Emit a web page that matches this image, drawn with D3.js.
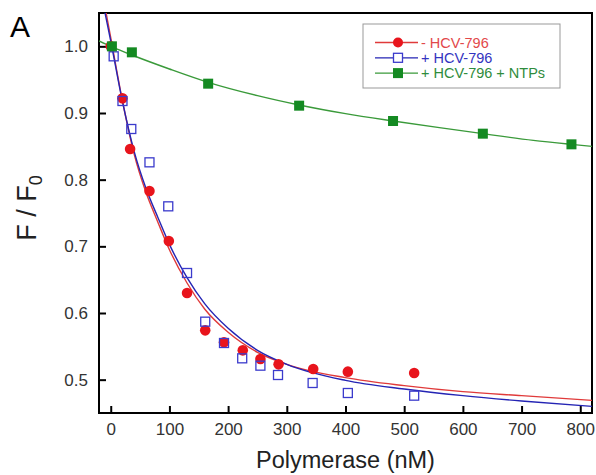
<!DOCTYPE html>
<html>
<head>
<meta charset="utf-8">
<script src="https://cdn.jsdelivr.net/npm/d3@7"></script>
<style>
  body { margin: 0; background: #fff; }
  svg { display: block; font-family: "Liberation Sans", Arial, sans-serif; }
</style>
</head>
<body>
<div id="chart"></div>
<script>
// measured points
const redX = [0, 20, 33, 66, 99, 130, 161, 193, 225, 255, 286, 345, 404, 517];
const redY = [1.0, 0.922, 0.846, 0.783, 0.708, 0.630, 0.574, 0.556, 0.544, 0.531, 0.523, 0.516, 0.512, 0.510];
const blueX = [5, 20, 35, 66, 98, 130, 161, 193, 224, 255, 285, 344, 404, 517];
const blueY = [0.985, 0.918, 0.876, 0.826, 0.760, 0.660, 0.587, 0.555, 0.532, 0.521, 0.507, 0.495, 0.480, 0.476];
const greenX = [2, 36, 166, 321, 481, 634, 785];
const greenY = [1.0, 0.991, 0.944, 0.911, 0.888, 0.869, 0.853];

// fitted curves
const redFitX = [-10, 0, 20, 40, 60, 80, 100, 130, 160, 200, 250, 300, 400, 500, 600, 700, 820];
const redFitY = [1.06, 1.013, 0.918, 0.838, 0.781, 0.737, 0.695, 0.645, 0.606, 0.571, 0.541, 0.523, 0.503, 0.491, 0.482, 0.476, 0.469];
const blueFitX = [-12, 0, 20, 40, 60, 80, 100, 130, 160, 200, 250, 300, 400, 500, 600, 700, 820];
const blueFitY = [1.06, 1.008, 0.917, 0.842, 0.787, 0.744, 0.703, 0.653, 0.614, 0.577, 0.544, 0.523, 0.499, 0.486, 0.476, 0.468, 0.460];
const greenFitX = [-20, 0, 36, 100, 166, 250, 321, 400, 481, 560, 634, 720, 785, 820];
const greenFitY = [1.008, 1.0, 0.987, 0.966, 0.946, 0.926, 0.912, 0.899, 0.888, 0.878, 0.869, 0.859, 0.853, 0.850];

const xTicks = [0, 100, 200, 300, 400, 500, 600, 700, 800];
const yTicks = [0.5, 0.6, 0.7, 0.8, 0.9, 1.0];
const legendLabels = ["- HCV-796", "+ HCV-796", "+ HCV-796 + NTPs"];

const w = 596, h = 475;
const m = { top: 13, right: 4, bottom: 62, left: 99 };

const svg = d3.select("#chart").append("svg")
    .attr("width", w)
    .attr("height", h);

const x = d3.scaleLinear().domain([-20, 820]).range([m.left, w - m.right]);
const y = d3.scaleLinear().domain([0.45, 1.05]).range([h - m.bottom, m.top]);

svg.append("clipPath").attr("id", "plot")
  .append("rect")
    .attr("x", m.left).attr("y", m.top)
    .attr("width", w - m.right - m.left).attr("height", h - m.bottom - m.top);

// axes, ticks pointing inward
const xAxis = svg.append("g")
    .attr("transform", `translate(0,${h - m.bottom})`)
    .call(d3.axisBottom(x).tickValues(xTicks).tickSize(-7).tickPadding(10).tickFormat(d3.format("d")));
const yAxis = svg.append("g")
    .attr("transform", `translate(${m.left},0)`)
    .call(d3.axisLeft(y).tickValues(yTicks).tickSize(-7).tickPadding(11).tickFormat(d3.format(".1f")));

[xAxis, yAxis].forEach(g => {
  g.select(".domain").remove();
  g.selectAll(".tick line").attr("stroke", "#000").attr("stroke-width", 2);
  g.selectAll(".tick text")
    .attr("fill", "#333")
    .style("font-size", "17px")
    .style("font-family", "'Liberation Sans', Arial, sans-serif");
});

// frame
svg.append("rect")
    .attr("x", m.left).attr("y", m.top)
    .attr("width", w - m.right - m.left).attr("height", h - m.bottom - m.top)
    .attr("fill", "none").attr("stroke", "#000").attr("stroke-width", 2);

const line = d3.line().x(d => x(d[0])).y(d => y(d[1])).curve(d3.curveMonotoneX);
const plot = svg.append("g").attr("clip-path", "url(#plot)");

const fits = [
  { xs: redFitX, ys: redFitY, color: "#e03a3a" },
  { xs: blueFitX, ys: blueFitY, color: "#2424b4" },
  { xs: greenFitX, ys: greenFitY, color: "#3a9a3a" }
];
fits.forEach(f => {
  plot.append("path")
    .datum(d3.zip(f.xs, f.ys))
    .attr("d", line)
    .attr("fill", "none")
    .attr("stroke", f.color)
    .attr("stroke-width", 1.4);
});

// markers
plot.selectAll(".red")
  .data(d3.zip(redX, redY))
  .enter().append("circle")
    .attr("class", "red")
    .attr("cx", d => x(d[0])).attr("cy", d => y(d[1]))
    .attr("r", 5.3)
    .attr("fill", "#e8141c");

plot.selectAll(".blue")
  .data(d3.zip(blueX, blueY))
  .enter().append("rect")
    .attr("class", "blue")
    .attr("x", d => x(d[0]) - 4.5).attr("y", d => y(d[1]) - 4.5)
    .attr("width", 9).attr("height", 9)
    .attr("fill", "none")
    .attr("stroke", "#3b3bcc")
    .attr("stroke-width", 1.3);

plot.selectAll(".green")
  .data(d3.zip(greenX, greenY))
  .enter().append("rect")
    .attr("class", "green")
    .attr("x", d => x(d[0]) - 5).attr("y", d => y(d[1]) - 5)
    .attr("width", 10).attr("height", 10)
    .attr("fill", "#148a22");

// legend
const legend = svg.append("g");
legend.append("rect")
    .attr("x", 363).attr("y", 24).attr("width", 197).attr("height", 64)
    .attr("fill", "#fff").attr("stroke", "#999").attr("stroke-width", 1);

const textColors = ["#e2484a", "#3434c0", "#2f8c3c"];
legendLabels.forEach((lab, i) => {
  const ly = 42.5 + i * 15.3;
  const g = legend.append("g");
  g.append("line")
    .attr("x1", 375).attr("x2", 418).attr("y1", ly).attr("y2", ly)
    .attr("stroke", fits[i].color).attr("stroke-width", 1.3);
  if (i === 0) {
    g.append("circle").attr("cx", 398).attr("cy", ly).attr("r", 5).attr("fill", "#e8141c");
  } else if (i === 1) {
    g.append("rect").attr("x", 393.5).attr("y", ly - 4.5).attr("width", 9).attr("height", 9)
      .attr("fill", "#fff").attr("stroke", "#3b3bcc").attr("stroke-width", 1.3);
  } else {
    g.append("rect").attr("x", 393).attr("y", ly - 5).attr("width", 10).attr("height", 10)
      .attr("fill", "#148a22");
  }
  g.append("text")
    .attr("x", 421).attr("y", ly).attr("dy", "0.36em")
    .attr("fill", textColors[i])
    .style("font-size", "14.5px")
    .text(lab);
});

// labels
svg.append("text")
    .attr("x", (m.left + w - m.right) / 2).attr("y", 468)
    .attr("text-anchor", "middle")
    .attr("fill", "#222")
    .style("font-size", "23.5px")
    .text("Polymerase (nM)");

const yl = svg.append("text")
    .attr("transform", "translate(36,208) rotate(-90)")
    .attr("text-anchor", "middle")
    .attr("fill", "#222")
    .style("font-size", "27px");
yl.append("tspan").text("F / F");
yl.append("tspan").attr("dy", "0.35em").style("font-size", "18px").text("0");

svg.append("text")
    .attr("x", 10).attr("y", 37)
    .attr("fill", "#000")
    .style("font-size", "30px")
    .text("A");
</script>
</body>
</html>
